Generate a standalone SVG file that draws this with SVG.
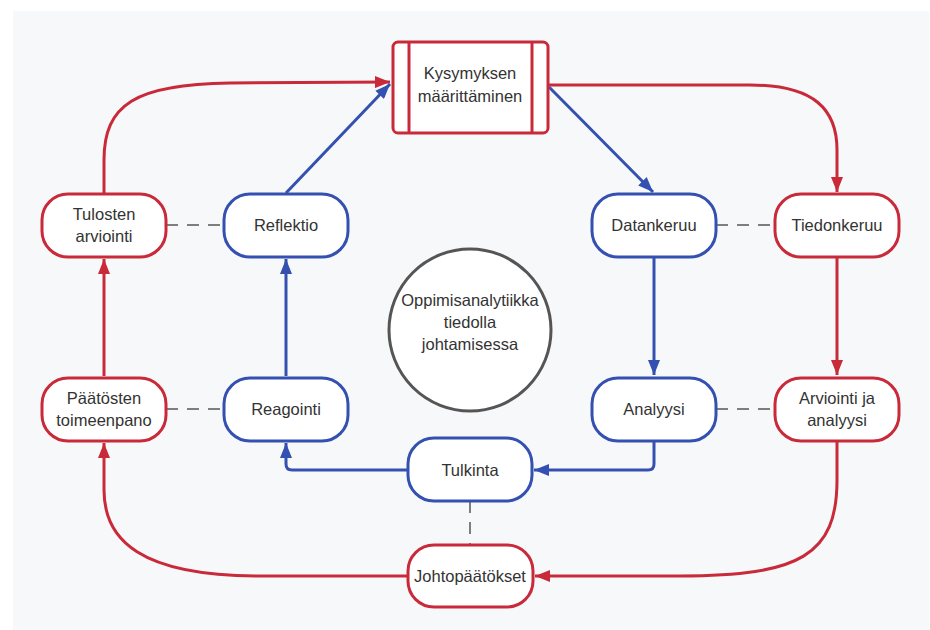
<svg xmlns="http://www.w3.org/2000/svg" width="930" height="630" viewBox="0 0 930 630">
<defs>
<style>
.bg{fill:#f7f8fa}
.red{fill:#fff;stroke:#c92a3a;stroke-width:3}
.blue{fill:#fff;stroke:#3450b0;stroke-width:3}
.cr{fill:none;stroke:#c92a3a;stroke-width:3}
.cb{fill:none;stroke:#3450b0;stroke-width:3}
.dash{fill:none;stroke:#555;stroke-width:1.5;stroke-dasharray:12 9}
text{font-family:"Liberation Sans",Arial,sans-serif;font-size:16.5px;fill:#333;text-anchor:middle}
</style>
<marker id="ar" markerUnits="userSpaceOnUse" markerWidth="16" markerHeight="12" refX="15" refY="6" orient="auto"><path d="M0,0 L15,6 L0,12 z" fill="#c92a3a"/></marker>
<marker id="ab" markerUnits="userSpaceOnUse" markerWidth="16" markerHeight="12" refX="15" refY="6" orient="auto"><path d="M0,0 L15,6 L0,12 z" fill="#3450b0"/></marker>
</defs>
<rect class="bg" x="13" y="11" width="916" height="619"/>
<g id="connectors">
<path class="cr" d="M104,193 L104,160 C104,105 135,84 230,83 L390,82" marker-end="url(#ar)"/>
<path class="cr" d="M548,85 L750,85 C815,85 837,110 837,150 L837,192" marker-end="url(#ar)"/>
<path class="cr" d="M837,258 L837,375" marker-end="url(#ar)"/>
<path class="cr" d="M837,442 L837,480 C837,555 800,576 680,576 L535,576" marker-end="url(#ar)"/>
<path class="cr" d="M408,576 L260,576 C140,576 104,540 104,490 L104,443" marker-end="url(#ar)"/>
<path class="cr" d="M104,376 L104,259" marker-end="url(#ar)"/>
<path class="cb" d="M286,193 L390,84" marker-end="url(#ab)"/>
<path class="cb" d="M549,87 L653,192" marker-end="url(#ab)"/>
<path class="cb" d="M654,258 L654,375" marker-end="url(#ab)"/>
<path class="cb" d="M654,442 L654,464 Q654,470 648,470 L534,470" marker-end="url(#ab)"/>
<path class="cb" d="M408,470 L292,470 Q286,470 286,464 L286,443" marker-end="url(#ab)"/>
<path class="cb" d="M286,376 L286,259" marker-end="url(#ab)"/>
<path class="dash" d="M166,225 L224,225"/>
<path class="dash" d="M716,225 L774,225"/>
<path class="dash" d="M166,409 L224,409"/>
<path class="dash" d="M716,409 L774,409"/>
<path class="dash" d="M470,501 L470,545"/>
</g>
<g id="kysymyksen">
<rect class="red" x="393" y="42" width="155" height="91" rx="5"/>
<line class="cr" x1="409" y1="42" x2="409" y2="133"/>
<line class="cr" x1="532" y1="42" x2="532" y2="133"/>
<text x="470" y="79">Kysymyksen</text>
<text x="470" y="102">määrittäminen</text>
</g>
<g id="tulosten">
<rect class="red" x="42" y="194" width="124" height="63" rx="26"/>
<text x="104" y="220">Tulosten</text>
<text x="104" y="242">arviointi</text>
</g>
<g id="reflektio">
<rect class="blue" x="224" y="194" width="124" height="63" rx="26"/>
<text x="286" y="231">Reflektio</text>
</g>
<g id="datankeruu">
<rect class="blue" x="592" y="194" width="124" height="63" rx="26"/>
<text x="654" y="231">Datankeruu</text>
</g>
<g id="tiedonkeruu">
<rect class="red" x="775" y="194" width="124" height="63" rx="26"/>
<text x="837" y="231">Tiedonkeruu</text>
</g>
<g id="paatosten">
<rect class="red" x="42" y="378" width="124" height="63" rx="26"/>
<text x="104" y="404">Päätösten</text>
<text x="104" y="426">toimeenpano</text>
</g>
<g id="reagointi">
<rect class="blue" x="224" y="378" width="124" height="63" rx="26"/>
<text x="286" y="415">Reagointi</text>
</g>
<g id="analyysi">
<rect class="blue" x="592" y="378" width="124" height="63" rx="26"/>
<text x="654" y="415">Analyysi</text>
</g>
<g id="arviointi">
<rect class="red" x="775" y="378" width="124" height="63" rx="26"/>
<text x="837" y="404">Arviointi ja</text>
<text x="837" y="426">analyysi</text>
</g>
<g id="tulkinta">
<rect class="blue" x="408" y="438" width="124" height="63" rx="26"/>
<text x="470" y="476">Tulkinta</text>
</g>
<g id="johtopaatokset">
<rect class="red" x="408" y="545" width="125" height="62" rx="26"/>
<text x="470" y="582">Johtopäätökset</text>
</g>
<g id="center">
<circle cx="470" cy="330" r="81" fill="#fff" stroke="#555" stroke-width="3"/>
<text x="470" y="306">Oppimisanalytiikka</text>
<text x="470" y="328">tiedolla</text>
<text x="470" y="350">johtamisessa</text>
</g>
</svg>
